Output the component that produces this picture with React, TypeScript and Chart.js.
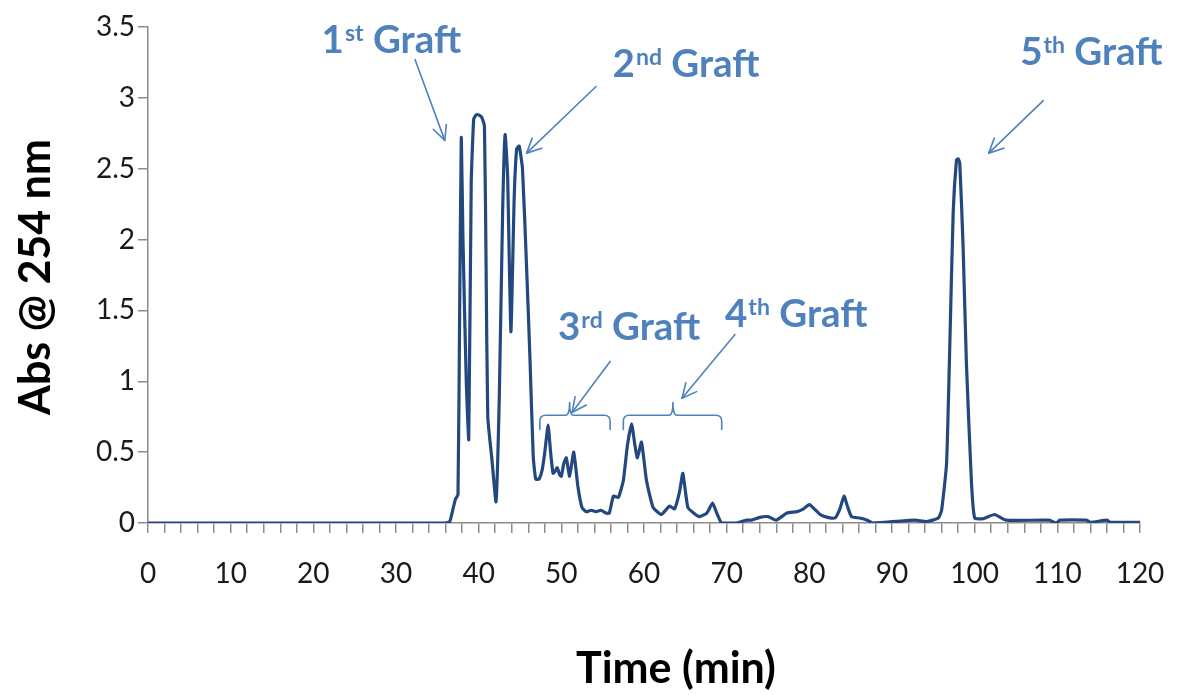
import React, { useEffect, useRef } from 'react';
import { Chart, registerables } from 'chart.js';

Chart.register(...registerables);

// ---------- data ----------
const times: number[] = [
  0, 36.0, 36.5, 36.9, 37.2, 37.5, 37.7, 37.9, 38.1, 38.5,
  38.8, 39.1, 39.4, 39.7, 40.0, 40.4, 40.7, 40.9, 41.1, 41.6,
  42.1, 42.5, 42.9, 43.2, 43.5, 43.9, 44.3, 44.6, 44.9, 45.3,
  45.8, 46.2, 46.6, 46.9, 47.3, 47.7, 48.0, 48.4, 48.7, 49.0,
  49.3, 49.5, 49.8, 50.0, 50.3, 50.6, 51.0, 51.5, 52.0, 52.5,
  53.0, 53.6, 54.2, 54.8, 55.4, 55.8, 56.3, 56.9, 57.5, 58.0,
  58.5, 58.9, 59.2, 59.7, 60.3, 61.1, 62.1, 63.1, 63.7, 64.3,
  64.7, 65.3, 66.0, 66.7, 67.6, 68.3, 68.8, 69.4, 71.2, 72.4,
  73.0, 74.0, 75.0, 76.0, 77.3, 78.5, 79.3, 80.0, 81.3, 82.2,
  83.1, 83.7, 84.2, 84.6, 85.1, 86.1, 87.0, 87.7, 92.8, 94.2,
  95.6, 96.0, 96.6, 97.0, 97.4, 97.8, 98.0, 98.2, 98.6, 99.0,
  99.6, 100.0, 101.0, 102.4, 103.8, 109.0, 109.9, 110.3, 113.5, 114.0,
  116.0, 116.4, 120.0,
];

const absorbance: number[] = [
  0, 0, 0.01, 0.1, 0.17, 0.2, 1.5, 2.72, 2.0, 1.0,
  0.59, 2.4, 2.85, 2.88, 2.88, 2.86, 2.8, 1.8, 0.75, 0.45,
  0.15, 0.9, 2.2, 2.74, 2.45, 1.35, 2.3, 2.64, 2.66, 2.5,
  1.8, 1.17, 0.47, 0.31, 0.31, 0.38, 0.5, 0.69, 0.5, 0.35,
  0.37, 0.39, 0.34, 0.33, 0.42, 0.46, 0.33, 0.5, 0.26, 0.11,
  0.08, 0.09, 0.08, 0.09, 0.07, 0.07, 0.19, 0.18, 0.3, 0.55,
  0.7, 0.55, 0.46, 0.57, 0.3, 0.11, 0.06, 0.12, 0.1, 0.22,
  0.35, 0.11, 0.07, 0.045, 0.07, 0.14, 0.07, 0.0, 0.0, 0.02,
  0.02, 0.04, 0.045, 0.02, 0.07, 0.08, 0.1, 0.13, 0.06, 0.04,
  0.035, 0.1, 0.19, 0.12, 0.045, 0.035, 0.02, 0.0, 0.02, 0.01,
  0.035, 0.09, 0.42, 1.27, 2.19, 2.56, 2.57, 2.54, 1.95, 1.13,
  0.3, 0.035, 0.03, 0.06, 0.02, 0.02, 0.0, 0.02, 0.02, 0.005,
  0.02, 0.005, 0.005,
];

const xMin = 0;
const xMax = 120;
const xTickStep = 2;
const xLabelEvery = 10;
const yMin = 0;
const yMax = 3.5;
const yTickStep = 0.5;

const xTitle = 'Time (min)';
const yTitle = 'Abs @ 254 nm';

// annotation labels: number, superscript, rest ; anchored at text left / baseline (data coords)
const graftNums = ['1', '2', '3', '4', '5'];
const graftSups = ['st', 'nd', 'rd', 'th', 'th'];
const graftRest = ' Graft';
const labelX = [21.0, 56.2, 49.6, 69.8, 105.5];
const labelY = [3.32, 3.15, 1.29, 1.38, 3.23];

// arrows: from (x1,y1) to (x2,y2), head at the end
const arrowFromX = [32.3, 54.2, 55.9, 71.0, 108.3];
const arrowFromY = [3.27, 3.08, 1.14, 1.33, 2.98];
const arrowToX = [35.9, 45.8, 51.3, 64.6, 101.7];
const arrowToY = [2.7, 2.61, 0.78, 0.88, 2.61];

// braces over 3rd and 4th graft regions
const braceStart = [47.4, 57.5];
const braceEnd = [55.9, 69.4];
const braceMid = [51.0, 63.5];
const braceTop = 0.76;
const braceLeg = 0.66;
const braceTip = 0.85;

const LINE_COLOR = '#23487f';
const ANN_COLOR = '#4f81bd';
const AXIS_COLOR = '#8c8c8c';
const FONT = 'Lato, "Open Sans", sans-serif';

const annotationPlugin = {
  id: 'graftAnnotations',
  afterDatasetsDraw(chart: any) {
    const { ctx, scales } = chart;
    const xs = scales.x;
    const ys = scales.y;
    const px = (v: number) => xs.getPixelForValue(v);
    const py = (v: number) => ys.getPixelForValue(v);
    ctx.save();
    ctx.strokeStyle = ANN_COLOR;
    ctx.fillStyle = ANN_COLOR;
    ctx.lineWidth = 1.6;
    ctx.lineCap = 'round';
    ctx.lineJoin = 'round';

    // braces
    for (let i = 0; i < braceStart.length; i++) {
      const xl = px(braceStart[i]);
      const xr = px(braceEnd[i]);
      const xm = px(braceMid[i]);
      const yt = py(braceTop);
      const yl = py(braceLeg);
      const ytip = py(braceTip);
      const r = 6;
      ctx.beginPath();
      ctx.moveTo(xl, yl);
      ctx.lineTo(xl, yt + r);
      ctx.quadraticCurveTo(xl, yt, xl + r, yt);
      ctx.lineTo(xm - 4, yt);
      ctx.quadraticCurveTo(xm, yt, xm, ytip);
      ctx.quadraticCurveTo(xm, yt, xm + 4, yt);
      ctx.lineTo(xr - r, yt);
      ctx.quadraticCurveTo(xr, yt, xr, yt + r);
      ctx.lineTo(xr, yl);
      ctx.stroke();
    }

    // arrows
    for (let i = 0; i < arrowFromX.length; i++) {
      const x1 = px(arrowFromX[i]);
      const y1 = py(arrowFromY[i]);
      const x2 = px(arrowToX[i]);
      const y2 = py(arrowToY[i]);
      ctx.beginPath();
      ctx.moveTo(x1, y1);
      ctx.lineTo(x2, y2);
      ctx.stroke();
      const ang = Math.atan2(y2 - y1, x2 - x1);
      const hl = 16;
      const ha = 0.45;
      ctx.beginPath();
      ctx.moveTo(x2 - hl * Math.cos(ang - ha), y2 - hl * Math.sin(ang - ha));
      ctx.lineTo(x2, y2);
      ctx.lineTo(x2 - hl * Math.cos(ang + ha), y2 - hl * Math.sin(ang + ha));
      ctx.stroke();
    }

    // labels
    const big = 38.5;
    const small = 23;
    ctx.textAlign = 'left';
    ctx.textBaseline = 'alphabetic';
    for (let i = 0; i < graftNums.length; i++) {
      let x = px(labelX[i]);
      const y = py(labelY[i]);
      ctx.font = `bold ${big}px ${FONT}`;
      ctx.fillText(graftNums[i], x, y);
      x += ctx.measureText(graftNums[i]).width + 1;
      ctx.font = `bold ${small}px ${FONT}`;
      ctx.fillText(graftSups[i], x, y - 12);
      x += ctx.measureText(graftSups[i]).width;
      ctx.font = `bold ${big}px ${FONT}`;
      ctx.fillText(graftRest, x, y);
    }
    ctx.restore();
  },
  afterDraw(chart: any) {
    const { ctx } = chart;
    ctx.save();
    ctx.fillStyle = '#000';
    ctx.font = `bold 43px ${FONT}`;
    ctx.textAlign = 'center';
    ctx.textBaseline = 'alphabetic';
    ctx.fillText(xTitle, 676, 683);
    ctx.translate(50, 277);
    ctx.rotate(-Math.PI / 2);
    ctx.fillText(yTitle, 0, 0);
    ctx.restore();
  },
};

export default function App() {
  const canvasRef = useRef<HTMLCanvasElement | null>(null);

  useEffect(() => {
    if (!canvasRef.current) return;
    const points = times.map((t, i) => ({ x: t, y: absorbance[i] }));
    const chart = new Chart(canvasRef.current, {
      type: 'line',
      data: {
        datasets: [
          {
            data: points,
            borderColor: LINE_COLOR,
            borderWidth: 3.2,
            pointRadius: 0,
            tension: 0.15,
            fill: false,
            borderJoinStyle: 'round',
          },
        ],
      },
      options: {
        animation: false,
        responsive: true,
        maintainAspectRatio: false,
        layout: { autoPadding: false, padding: { top: 27, right: 37, left: 0, bottom: 0 } },
        plugins: {
          legend: { display: false },
          tooltip: { enabled: false },
        },
        scales: {
          x: {
            type: 'linear',
            min: xMin,
            max: xMax,
            afterFit: (scale: any) => {
              scale.height = 172;
              scale.paddingLeft = 0;
              scale.paddingRight = 0;
            },
            ticks: {
              stepSize: xTickStep,
              autoSkip: false,
              maxRotation: 0,
              padding: 24,
              color: '#1a1a1a',
              font: { family: FONT, size: 28 },
              callback: (v: any) => (Number(v) % xLabelEvery === 0 ? String(v) : ''),
            },
            grid: {
              drawOnChartArea: false,
              drawTicks: true,
              tickLength: 10,
              color: AXIS_COLOR,
              lineWidth: 1.5,
            },
            border: { display: true, color: AXIS_COLOR, width: 1.5 },
            title: { display: false },
          },
          y: {
            type: 'linear',
            min: yMin,
            max: yMax,
            afterFit: (scale: any) => {
              scale.width = 148;
              scale.paddingTop = 0;
              scale.paddingBottom = 0;
            },
            ticks: {
              stepSize: yTickStep,
              padding: 3,
              color: '#1a1a1a',
              font: { family: FONT, size: 28 },
              callback: (v: any) => String(Number(v)),
            },
            grid: {
              drawOnChartArea: false,
              drawTicks: true,
              tickLength: 10,
              color: AXIS_COLOR,
              lineWidth: 1.5,
            },
            border: { display: true, color: AXIS_COLOR, width: 1.5 },
            title: { display: false },
          },
        },
      },
      plugins: [annotationPlugin],
    });
    return () => chart.destroy();
  }, []);

  return (
    <div style={{ position: 'absolute', left: 0, top: 0, width: 1177, height: 695, background: '#fff' }}>
      <canvas ref={canvasRef} />
    </div>
  );
}
